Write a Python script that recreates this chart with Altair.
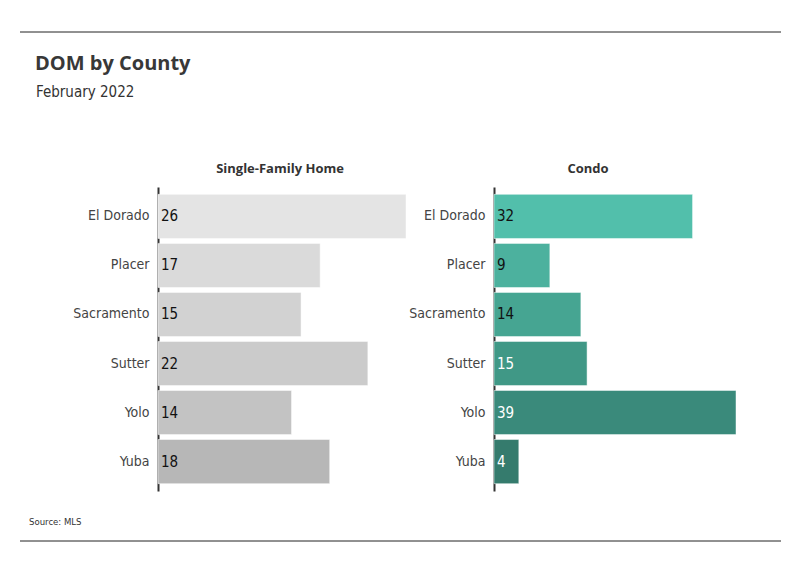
import altair as alt
import pandas as pd

counties = ["El Dorado", "Placer", "Sacramento", "Sutter", "Yolo", "Yuba"]
sfh_values = [26, 17, 15, 22, 14, 18]
condo_values = [32, 9, 14, 15, 39, 4]
sfh_colors = ["#e4e4e4", "#dadada", "#d2d2d2", "#cbcbcb", "#c3c3c3", "#b7b7b7"]
condo_colors = ["#52bfab", "#4cb19e", "#46a592", "#409886", "#3a8a7b", "#357b6d"]
sfh_text_colors = ["#111111"] * 6
condo_text_colors = ["#111111", "#111111", "#111111", "#ffffff", "#ffffff", "#ffffff"]

chart_title = "DOM by County"
chart_subtitle = "February 2022"
source_note = "Source: MLS"

NARROW = "DejaVu Sans Condensed, Roboto, sans-serif"
BOLD = "Open Sans, Noto Sans, sans-serif"

LEFT_EXT = 138


def panel(values, colors, tcolors, title, width, extent, title_dx):
    df = pd.DataFrame({"county": counties, "value": values, "color": colors, "tc": tcolors})
    yenc = alt.Y(
        "county:N", sort=counties, title=None,
        scale=alt.Scale(paddingInner=0.1, paddingOuter=0.15),
        axis=alt.Axis(domainColor="#333333", domainWidth=2, ticks=False, grid=False,
                      labelFontSize=14, labelColor="#444444", labelFont=NARROW,
                      labelPadding=9, minExtent=extent),
    )
    xscale = alt.Scale(domain=[0, max(values)], nice=False, zero=True)
    bars = alt.Chart(df).mark_bar(stroke="#ffffff", strokeWidth=0.8, strokeOpacity=0.6).encode(
        y=yenc,
        x=alt.X("value:Q", axis=None, scale=xscale),
        color=alt.Color("color:N", scale=None),
    )
    text = alt.Chart(df).mark_text(align="left", baseline="middle", dx=3, font=NARROW, fontSize=15).encode(
        y=yenc,
        x=alt.datum(0),
        text=alt.Text("value:Q"),
        color=alt.Color("tc:N", scale=None),
    )
    return alt.layer(bars, text).properties(
        width=width, height=304,
        title=alt.TitleParams(title, fontSize=13, font=BOLD, fontWeight="bold",
                              color="#333333", offset=11, anchor="middle", dx=title_dx),
    )


left = panel(sfh_values, sfh_colors, sfh_text_colors, "Single-Family Home", 248, LEFT_EXT, -2)
right = panel(condo_values, condo_colors, condo_text_colors, "Condo", 242, 0, -27)

panels = alt.hconcat(left, right, spacing=1)

one = pd.DataFrame({"t": [chart_title], "s": [chart_subtitle], "src": [source_note]})
W = 761 - LEFT_EXT

header_rule = alt.Chart(one).mark_rule(color="#222222", strokeWidth=1).encode(
    x=alt.value(-LEFT_EXT), x2=alt.value(W), y=alt.value(0))
header_title = alt.Chart(one).mark_text(align="left", baseline="alphabetic", font=BOLD,
                                        fontWeight="bold", fontSize=20, color="#383838").encode(
    x=alt.value(15 - LEFT_EXT), y=alt.value(38), text="t:N")
header_sub = alt.Chart(one).mark_text(align="left", baseline="alphabetic", font=NARROW,
                                      fontSize=15, color="#333333").encode(
    x=alt.value(16 - LEFT_EXT), y=alt.value(65), text="s:N")
header = alt.layer(header_rule, header_title, header_sub).properties(width=W, height=121)

footer_text = alt.Chart(one).mark_text(align="left", baseline="alphabetic", font=NARROW,
                                       fontSize=9.5, color="#333333").encode(
    x=alt.value(9 - LEFT_EXT), y=alt.value(24), text="src:N")
footer_rule = alt.Chart(one).mark_rule(color="#222222", strokeWidth=1).encode(
    x=alt.value(-LEFT_EXT), x2=alt.value(W), y=alt.value(40))
footer = alt.layer(footer_text, footer_rule).properties(width=W, height=40)

chart = alt.vconcat(header, panels, footer, spacing=10).properties(
    padding={"left": 11, "top": 23, "right": 0, "bottom": 0},
    background="#ffffff",
).configure_view(stroke=None)

chart.save("out.html", embed_options={"renderer": "svg", "actions": False})
